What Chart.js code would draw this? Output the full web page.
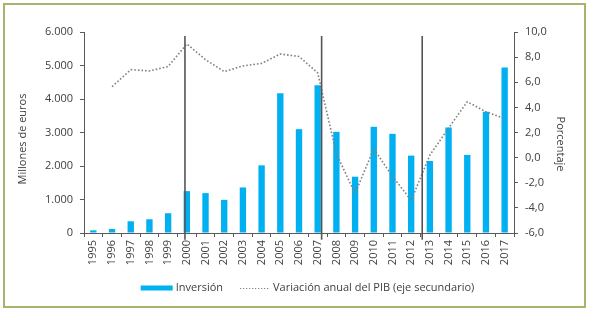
<!DOCTYPE html>
<html><head><meta charset="utf-8">
<script src="https://cdn.jsdelivr.net/npm/chart.js@4"></script>
<style>
html,body{margin:0;padding:0;background:#fff;}
#wrap{position:relative;width:589px;height:314px;overflow:hidden;}
#frame{position:absolute;left:3px;top:3px;width:579px;height:301px;border:2px solid #a6b56c;}
canvas{position:absolute;left:0;top:0;}
</style></head><body>
<div id="wrap"><div id="frame"></div><canvas id="c" width="589" height="314"></canvas></div>
<script>
const years = ['1995','1996','1997','1998','1999','2000','2001','2002','2003','2004','2005','2006','2007','2008','2009','2010','2011','2012','2013','2014','2015','2016','2017'];
const inversion = [80,120,350,410,590,1250,1190,990,1360,2020,4170,3100,4410,3020,1680,3170,2960,2310,2150,3150,2330,3620,4940];
const pibVariacion = [null,5.65,7.0,6.9,7.25,9.05,7.8,6.85,7.3,7.5,8.25,8.05,6.75,0.3,-2.85,0.7,-1.5,-3.4,0.2,2.35,4.45,3.65,3.1];
const leftAxis = {min:0, max:6000, step:1000};
const rightAxis = {min:-6, max:10, step:2};
const markerPositions = [4.9, 12.21, 17.59];   // category-index positions of the vertical separators
const markerRange = [5880, -200];              // top / bottom in left-axis units
const labels = {bar:'Inversión', line:'Variación anual del PIB (eje secundario)', yLeft:'Millones de euros', yRight:'Porcentaje'};

const FONT = "'Open Sans', 'Noto Sans', sans-serif";
const TXT = '#404040';
const AX = '#595959';
const BLUE = '#00b0f0';
const GREY = '#808080';

const fmtThousands = v => String(v).replace(/\B(?=(\d{3})+(?!\d))/g, '.');
const fmtDec = v => v.toFixed(1).replace('.', ',');

const overlay = {
  id: 'overlay',
  afterDatasetsDraw(chart) {
    const {ctx, scales:{x, y}} = chart;
    ctx.save();
    ctx.strokeStyle = '#555555';
    ctx.lineWidth = 1.6;
    markerPositions.forEach(p => {
      const px = x.getPixelForValue(p);
      ctx.beginPath();
      ctx.moveTo(px, y.getPixelForValue(markerRange[0]));
      ctx.lineTo(px, y.getPixelForValue(markerRange[1]));
      ctx.stroke();
    });
    ctx.restore();
  },
  afterDraw(chart) {
    const {ctx, chartArea} = chart;
    ctx.save();
    ctx.fillStyle = TXT;
    ctx.font = "11px " + FONT;
    ctx.textBaseline = 'middle';
    ctx.textAlign = 'center';
    // axis titles
    ctx.save();
    ctx.translate(23, 139);
    ctx.rotate(-Math.PI/2);
    ctx.fillText(labels.yLeft, 0, 0);
    ctx.restore();
    ctx.save();
    ctx.translate(560, 144);
    ctx.rotate(Math.PI/2);
    ctx.fillText(labels.yRight, 0, 0);
    ctx.restore();
    // legend
    ctx.textAlign = 'left';
    const ly = 288;
    const boxW = 32, gap1 = 3, itemGap = 17, lineW = 30, gap2 = 3;
    const w1 = ctx.measureText(labels.bar).width;
    const w2 = ctx.measureText(labels.line).width;
    const total = boxW + gap1 + w1 + itemGap + lineW + gap2 + w2;
    let lx = 307.5 - total/2;
    ctx.fillStyle = BLUE;
    ctx.fillRect(lx, ly - 2.5, boxW, 5);
    lx += boxW + gap1;
    ctx.fillStyle = TXT;
    ctx.fillText(labels.bar, lx, ly);
    lx += w1 + itemGap;
    ctx.strokeStyle = GREY;
    ctx.lineWidth = 1.2;
    ctx.setLineDash([1.2, 1.8]);
    ctx.beginPath();
    ctx.moveTo(lx, ly + 0.5);
    ctx.lineTo(lx + lineW, ly + 0.5);
    ctx.stroke();
    ctx.setLineDash([]);
    lx += lineW + gap2;
    ctx.fillText(labels.line, lx, ly);
    ctx.restore();
  }
};

new Chart(document.getElementById('c'), {
  data: {
    labels: years,
    datasets: [
      {type:'line', label: labels.line, data: pibVariacion, yAxisID:'y1', borderColor: GREY, borderWidth: 1.6,
       borderDash:[1.6, 2], pointRadius:0, tension:0, fill:false, order:0, spanGaps:false},
      {type:'bar', label: labels.bar, data: inversion, yAxisID:'y', backgroundColor: BLUE, borderWidth:0,
       barPercentage:0.34, categoryPercentage:1, order:1}
    ]
  },
  options: {
    responsive:false, animation:false, devicePixelRatio:1,
    layout:{padding:{top:32, left:0, right:0, bottom:0}},
    plugins:{legend:{display:false}, tooltip:{enabled:false}, title:{display:false}},
    scales:{
      x:{ type:'category', offset:true,
          grid:{offset:true, drawOnChartArea:false, drawTicks:true, tickLength:4, color:AX, lineWidth:1},
          border:{display:true, color:AX, width:1},
          ticks:{minRotation:90, maxRotation:90, autoSkip:false, padding:3, color:TXT, font:{family:FONT, size:11}},
          afterFit(s){ s.height = 81; } },
      y:{ position:'left', min:leftAxis.min, max:leftAxis.max,
          grid:{drawOnChartArea:false, drawTicks:true, tickLength:4, color:AX},
          border:{display:true, color:AX, width:1},
          ticks:{stepSize:leftAxis.step, padding:7, color:TXT, font:{family:FONT, size:11}, callback:v=>fmtThousands(v)},
          afterFit(s){ s.width = 84; } },
      y1:{ position:'right', min:rightAxis.min, max:rightAxis.max,
          grid:{drawOnChartArea:false, drawTicks:true, tickLength:4, color:AX},
          border:{display:true, color:AX, width:1},
          ticks:{stepSize:rightAxis.step, padding:7, color:TXT, font:{family:FONT, size:11}, callback:v=>fmtDec(v)},
          afterFit(s){ s.width = 75; } }
    }
  },
  plugins:[overlay]
});
</script>
</body></html>
